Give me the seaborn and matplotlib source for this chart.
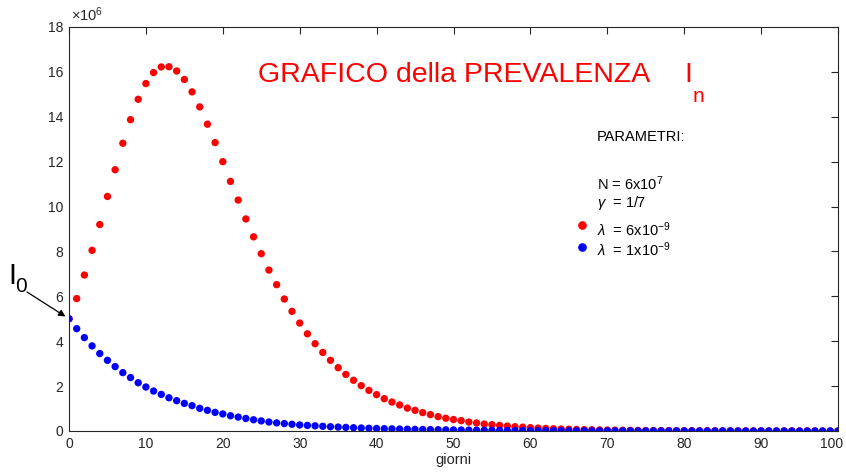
import numpy as np
import pandas as pd
import matplotlib
matplotlib.use("Agg")
import matplotlib.pyplot as plt
import matplotlib.transforms as mtransforms
import seaborn as sns

# days
giorni = list(range(0, 101))

# prevalence (millions), lambda = 6e-9
red_vals = [
    5.00, 5.90, 6.95, 8.05, 9.20, 10.45, 11.64, 12.82, 13.87, 14.78,
    15.48, 15.97, 16.22, 16.23, 16.04, 15.66, 15.11, 14.44, 13.67, 12.85,
    12.00, 11.12, 10.29, 9.45, 8.65, 7.90, 7.17, 6.52, 5.88, 5.33,
    4.81, 4.33, 3.89, 3.50, 3.15, 2.82, 2.52, 2.26, 2.02, 1.81,
    1.62, 1.44, 1.29, 1.16, 1.02, 0.92, 0.82, 0.73, 0.64, 0.57,
    0.51, 0.46, 0.40, 0.36, 0.31, 0.28, 0.25, 0.22, 0.19, 0.17,
    0.15, 0.13, 0.115, 0.10, 0.09, 0.08, 0.07, 0.062, 0.055, 0.048,
    0.042, 0.037, 0.033, 0.029, 0.025, 0.022, 0.019, 0.017, 0.015, 0.013,
    0.012, 0.0106, 0.0093, 0.0082, 0.0072, 0.0063, 0.0056, 0.0049, 0.0043, 0.0038,
    0.0033, 0.0029, 0.0026, 0.0023, 0.0020, 0.0018, 0.0016, 0.0014, 0.0012, 0.0011,
    0.0010,
]

# prevalence (millions), lambda = 1e-9
blue_vals = [
    5.00, 4.56, 4.16, 3.79, 3.45, 3.15, 2.87, 2.60, 2.38, 2.15,
    1.96, 1.78, 1.63, 1.48, 1.35, 1.23, 1.13, 1.01, 0.92, 0.83,
    0.76, 0.68, 0.62, 0.56, 0.50, 0.45, 0.40, 0.36, 0.33, 0.30,
    0.27, 0.25, 0.23, 0.21, 0.19, 0.175, 0.16, 0.145, 0.133, 0.122,
    0.112, 0.103, 0.095, 0.087, 0.080, 0.073, 0.067, 0.062, 0.057, 0.052,
    0.048, 0.044, 0.040, 0.037, 0.034, 0.031, 0.029, 0.026, 0.024, 0.022,
    0.020, 0.019, 0.017, 0.016, 0.015, 0.013, 0.012, 0.011, 0.010, 0.0095,
    0.0087, 0.0080, 0.0073, 0.0067, 0.0062, 0.0057, 0.0052, 0.0048, 0.0044, 0.0040,
    0.0037, 0.0034, 0.0031, 0.0029, 0.0026, 0.0024, 0.0022, 0.0020, 0.0019, 0.0017,
    0.0016, 0.0015, 0.0013, 0.0012, 0.0011, 0.0010, 0.00095, 0.00087, 0.00080, 0.00074,
    0.00068,
]

series_names = ["lambda6", "lambda1"]
series_colors = ["#ff0000", "#0000ff"]
x_ticks = list(range(0, 101, 10))
y_ticks = list(range(0, 19, 2))

df = pd.DataFrame({
    "giorni": giorni * 2,
    "I": [v * 1e6 for v in red_vals] + [v * 1e6 for v in blue_vals],
    "serie": [series_names[0]] * len(giorni) + [series_names[1]] * len(giorni),
})

sns.set_style("white")
plt.rcParams["font.family"] = ["Liberation Sans", "DejaVu Sans"]
plt.rcParams["mathtext.fontset"] = "custom"
plt.rcParams["mathtext.rm"] = "Liberation Sans"
plt.rcParams["mathtext.it"] = "Liberation Sans:italic"

fig = plt.figure(figsize=(8.46, 4.75), dpi=100)
ax = fig.add_axes([69 / 846, 1 - 431 / 475, (838 - 69) / 846, (431 - 27) / 475])

sns.scatterplot(data=df, x="giorni", y="I", hue="serie", hue_order=series_names,
                palette=dict(zip(series_names, series_colors)), s=28, linewidth=0,
                legend=False, ax=ax, zorder=3)

ax.set_xlim(0, 100)
ax.set_ylim(0, 18e6)
ax.set_xticks(x_ticks)
ax.set_yticks([t * 1e6 for t in y_ticks])
ax.set_xticklabels([str(t) for t in x_ticks])
ax.set_yticklabels([str(t) for t in y_ticks])
ax.tick_params(direction="in", length=5, width=0.8, top=True, right=True,
               labelsize=10, colors="#262626", pad=4)
for sp in ax.spines.values():
    sp.set_color("#262626")
    sp.set_linewidth(0.8)
ax.set_xlabel("giorni", fontsize=10.5, color="#262626", labelpad=2)
ax.set_ylabel("")

# keep the last x tick label inside the figure, as in the reference
last_lab = ax.get_xticklabels()[-1]
last_lab.set_transform(last_lab.get_transform() +
                       mtransforms.ScaledTranslation(-6 / 100, 0, fig.dpi_scale_trans))

ax.text(0.002, 1.008, r"$\times10^{6}$", transform=ax.transAxes, fontsize=10.5,
        color="#262626", ha="left", va="bottom")

# title text
fig.text(258 / 846, 1 - 75 / 475, "GRAFICO della PREVALENZA", color="#ff0000",
         fontsize=20.5, ha="left", va="center")
fig.text(684 / 846, 1 - 75 / 475, "I", color="#ff0000", fontsize=20.5, ha="left", va="center")
fig.text(693 / 846, 1 - 96 / 475, "n", color="#ff0000", fontsize=15, ha="left", va="center")

# parameters block
pc = "#000000"
fs = 10.5
fig.text(597 / 846, 1 - 137 / 475, "PARAMETRI:", fontsize=fs, color=pc, va="center")
fig.text(597 / 846, 1 - 184 / 475, r"N = 6x10$^{7}$", fontsize=fs, color=pc, va="center")
fig.text(597 / 846, 1 - 203 / 475, r"$\gamma$  = 1/7", fontsize=fs, color=pc, va="center")
fig.text(597 / 846, 1 - 230 / 475, r"$\lambda$  = 6x10$^{-9}$", fontsize=fs, color=pc, va="center")
fig.text(597 / 846, 1 - 250 / 475, r"$\lambda$  = 1x10$^{-9}$", fontsize=fs, color=pc, va="center")
fig.lines.append(plt.Line2D([582 / 846], [1 - 225 / 475], marker="o", color=series_colors[0],
                            markersize=5.2, transform=fig.transFigure, linestyle=""))
fig.lines.append(plt.Line2D([582 / 846], [1 - 247 / 475], marker="o", color=series_colors[1],
                            markersize=5.2, transform=fig.transFigure, linestyle=""))

# I0 annotation
ax.annotate("", xy=(0, blue_vals[0] * 1e6), xycoords="data",
            xytext=(27 / 846, 1 - 292 / 475), textcoords="figure fraction",
            arrowprops=dict(arrowstyle="-|>", color="black", lw=0.9,
                            mutation_scale=10, shrinkA=0, shrinkB=3),
            annotation_clip=False)
fig.text(8 / 846, 1 - 276 / 475, "I", fontsize=21, color="black", va="center")
fig.text(15 / 846, 1 - 287 / 475, "0", fontsize=15, color="black", va="center")

fig.savefig("out.png", dpi=100)
